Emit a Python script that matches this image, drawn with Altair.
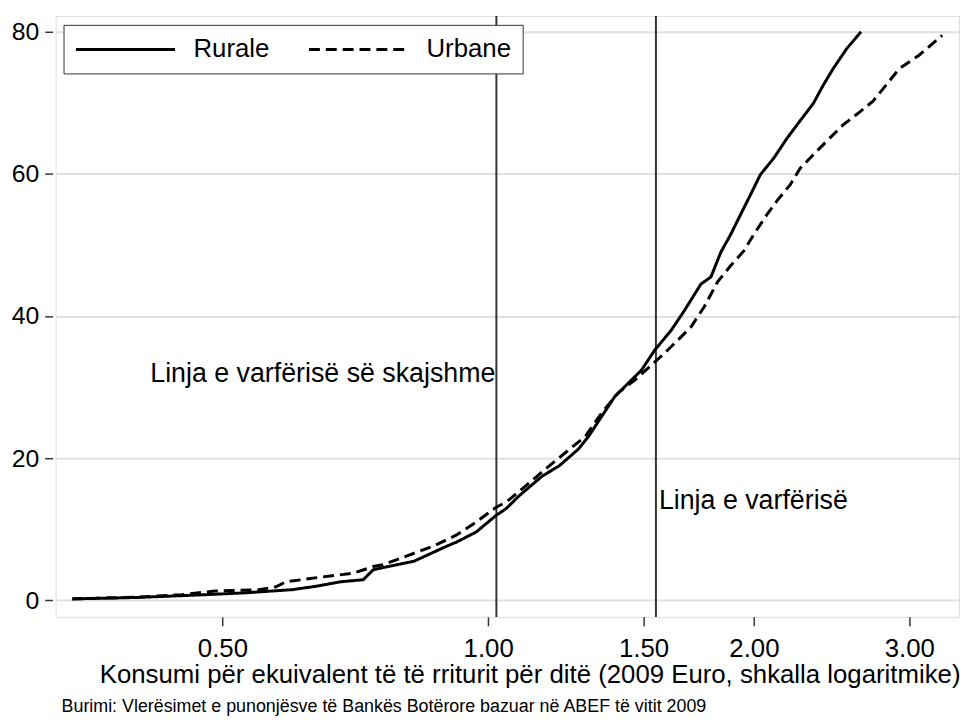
import altair as alt
import pandas as pd

FONT = "Liberation Sans, Arial, Helvetica, sans-serif"

# Rurale (solid) cumulative distribution
rural_x = [0.338, 0.40, 0.47, 0.53, 0.60, 0.64, 0.68, 0.722, 0.741, 0.76, 0.824, 0.897,
           0.921, 0.969, 1.021, 1.048, 1.084, 1.152, 1.203, 1.266, 1.300, 1.345, 1.392,
           1.429, 1.492, 1.544, 1.612, 1.669, 1.742, 1.788, 1.835, 1.883, 1.932, 1.983,
           2.034, 2.106, 2.180, 2.257, 2.335, 2.397, 2.459, 2.547, 2.645]
rural_y = [0.2, 0.4, 0.75, 1.05, 1.5, 2.0, 2.6, 2.9, 4.3, 4.6, 5.5, 7.6,
           8.2, 9.6, 11.95, 12.9, 14.7, 17.5, 18.9, 21.3, 23.1, 25.9, 28.7,
           30.1, 32.4, 35.2, 38.0, 40.8, 44.5, 45.5, 49.0, 51.5, 54.3, 57.1,
           59.9, 62.2, 65.0, 67.5, 69.9, 72.5, 74.8, 77.6, 80.0]

# Urbane (dashed) cumulative distribution
urban_x = [0.338, 0.40, 0.45, 0.49, 0.55, 0.575, 0.59, 0.65, 0.703, 0.741, 0.76, 0.815,
           0.870, 0.921, 0.969, 1.021, 1.048, 1.103, 1.162, 1.224, 1.289, 1.345, 1.404,
           1.466, 1.531, 1.585, 1.640, 1.698, 1.757, 1.819, 1.883, 1.949, 2.0, 2.070,
           2.124, 2.199, 2.257, 2.335, 2.418, 2.524, 2.635, 2.727, 2.823, 2.922, 3.077,
           3.268]
urban_y = [0.2, 0.45, 0.8, 1.3, 1.5, 1.9, 2.6, 3.3, 3.8, 4.75, 5.0, 6.4,
           7.7, 9.2, 11.0, 13.1, 13.8, 16.1, 18.5, 20.8, 23.1, 26.4, 29.2,
           31.0, 33.1, 34.8, 36.6, 38.5, 41.3, 44.8, 47.1, 49.2, 51.5, 54.3,
           56.2, 58.5, 60.8, 62.7, 64.6, 66.9, 68.7, 70.2, 72.5, 74.8, 76.7,
           79.5]

series_names = ["Rurale", "Urbane"]

# Poverty lines
line_x = [1.0217, 1.549]
line_labels = ["Linja e varfërisë së skajshme", "Linja e varfërisë"]
label_y = [31.9, 13.9]
label_align = ["right", "left"]

x_ticks = [0.5, 1.0, 1.5, 2.0, 3.0]
y_ticks = [0, 20, 40, 60, 80]

x_title = "Konsumi për ekuivalent të të rriturit për ditë (2009 Euro, shkalla logaritmike)"
source_text = "Burimi: Vlerësimet e punonjësve të Bankës Botërore bazuar në ABEF të vitit 2009"

df = pd.concat([
    pd.DataFrame({"x": rural_x, "y": rural_y, "s": series_names[0]}),
    pd.DataFrame({"x": urban_x, "y": urban_y, "s": series_names[1]}),
])
vl = pd.DataFrame({"x": line_x})
lab = pd.DataFrame({"x": line_x, "y": label_y, "t": line_labels, "a": label_align})

xscale = alt.Scale(type="log", domain=[0.3236, 3.415], nice=False)
yscale = alt.Scale(domain=[-2.33, 82.23], nice=False, zero=False)

xaxis = alt.Axis(values=x_ticks, format=".2f", grid=False, domain=False,
                 tickSize=9, tickColor="#333", tickWidth=1.5,
                 labelFontSize=26, labelFont=FONT, labelColor="black", labelPadding=10,
                 title=x_title, titleFontSize=26, titleFont=FONT, titleFontWeight="normal",
                 titleColor="black", titleX=478, titleY=66, titleAlign="center",
                 titleBaseline="alphabetic", labelFlush=False)
yaxis = alt.Axis(values=y_ticks, grid=True, gridColor="#e0e0e0", gridWidth=2, domain=False,
                 tickSize=8, tickColor="#333", tickWidth=1.5, offset=3,
                 labelFontSize=25, labelFont=FONT, labelColor="black", labelPadding=6,
                 title=None)

lines = alt.Chart(df).mark_line(strokeWidth=3, color="black").encode(
    x=alt.X("x:Q", scale=xscale, axis=xaxis),
    y=alt.Y("y:Q", scale=yscale, axis=yaxis),
    strokeDash=alt.StrokeDash(
        "s:N",
        scale=alt.Scale(domain=series_names, range=[[1, 0], [11, 6]]),
        legend=alt.Legend(orient="none", legendX=8, legendY=9, direction="horizontal",
                          title=None, symbolType="M-1,0H7.333", symbolSize=576,
                          symbolStrokeWidth=3, symbolStrokeColor="black",
                          symbolFillColor="transparent",
                          labelFontSize=26, labelFont=FONT, labelColor="black",
                          labelOffset=93, columnPadding=33, padding=11,
                          strokeColor="#333", fillColor="white"),
    ),
    order="x:Q",
)

rules = alt.Chart(vl).mark_rule(color="#333", strokeWidth=2).encode(
    x=alt.X("x:Q", scale=xscale),
)

texts_right = alt.Chart(lab[lab["a"] == "right"]).mark_text(
    align="right", baseline="middle", fontSize=27, font=FONT, color="black", dx=-1
).encode(x=alt.X("x:Q", scale=xscale), y=alt.Y("y:Q", scale=yscale), text="t:N")

texts_left = alt.Chart(lab[lab["a"] == "left"]).mark_text(
    align="left", baseline="middle", fontSize=27, font=FONT, color="black", dx=3
).encode(x=alt.X("x:Q", scale=xscale), y=alt.Y("y:Q", scale=yscale), text="t:N")

chart = alt.layer(rules, lines, texts_right, texts_left).properties(
    width=911, height=606,
    padding={"left": 48, "top": 5, "right": 2, "bottom": 101},
    autosize=alt.AutoSizeParams(type="none"),
    title=alt.TitleParams(text=source_text, orient="bottom", anchor="start", frame="group",
                          fontSize=18, fontWeight="normal", font=FONT, color="black",
                          dx=6, offset=11),
).configure_view(stroke="#333", strokeWidth=2).configure(background="white")

chart.save("out.html", embed_options={"renderer": "svg", "actions": False})
